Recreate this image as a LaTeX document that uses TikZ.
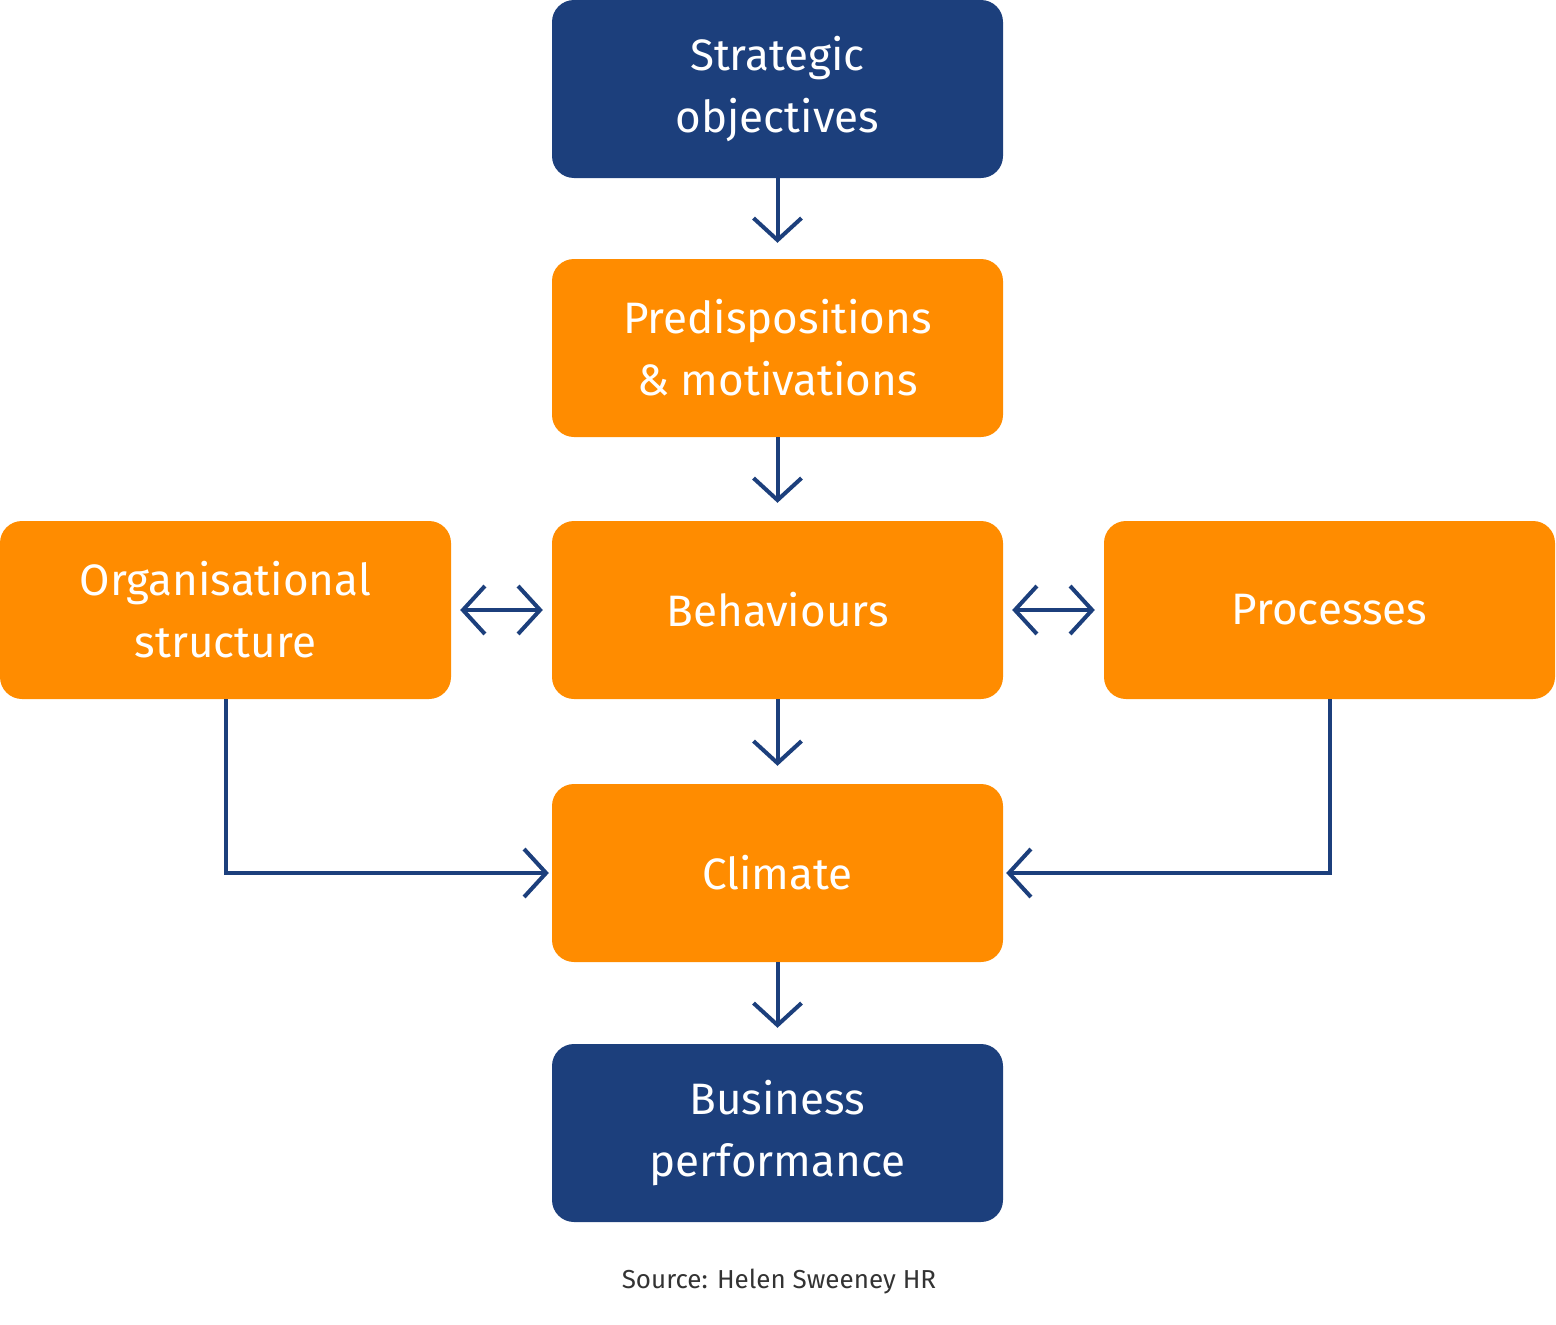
\documentclass[tikz,border=0pt]{standalone}
\usepackage{fontspec}
\setmainfont{Fira Sans}
\usetikzlibrary{arrows.meta}
\definecolor{dblue}{HTML}{1C3F7C}
\definecolor{orng}{HTML}{FF8C00}
\begin{document}
\begin{tikzpicture}[x=1pt,y=-1pt,
  box/.style={draw=none,rounded corners=22pt,minimum width=451pt,minimum height=178pt,text=white,align=center,font=\fontsize{44}{62}\selectfont,inner sep=0pt},
  bl/.style={box,fill=dblue},
  or/.style={box,fill=orng},
  arr/.style={draw=dblue,line width=4pt,-{Straight Barb[length=22pt,width=48pt,line width=4pt]}},
  darr/.style={draw=dblue,line width=4pt,{Straight Barb[length=22pt,width=48pt,line width=4pt]}-{Straight Barb[length=22pt,width=48pt,line width=4pt]}}]
\useasboundingbox (0,0) rectangle (1556,1325);
\node[bl] (s) at (777.5,89) {Strategic\\objectives};
\node[or] (p) at (777.5,348) {Predispositions\\\& motivations};
\node[or] (b) at (777.5,610) {Behaviours};
\node[or] (o) at (225.5,610) {Organisational\\structure};
\node[or] (r) at (1329.5,610) {Processes};
\node[or] (c) at (777.5,873) {Climate};
\node[bl] (bp) at (777.5,1133) {Business\\performance};
\node[text=black!80,font=\fontsize{26}{30}\selectfont] (src) at (779,1282) {Source: Helen Sweeney HR};
\draw[arr,shorten >=16pt] (s) -- (p);
\draw[arr,shorten >=18pt] (p) -- (b);
\draw[arr,shorten >=18pt] (b) -- (c);
\draw[arr,shorten >=16pt] (c) -- (bp);
\draw[darr,shorten <=9pt,shorten >=9pt] (o) -- (b);
\draw[darr,shorten <=9pt,shorten >=9pt] (b) -- (r);
\draw[arr,shorten >=3pt] (o.south) |- (c.west);
\draw[arr,shorten >=3pt] (r.south) |- (c.east);
\end{tikzpicture}
\end{document}
